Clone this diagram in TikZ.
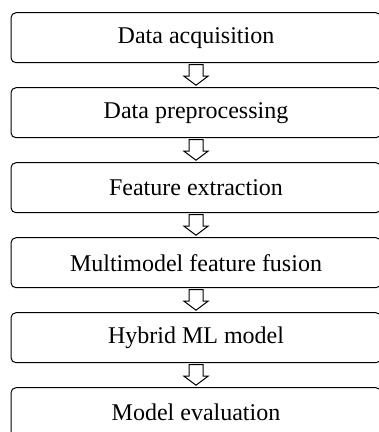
\documentclass[tikz,border=0pt]{standalone}
\usepackage{fontspec}
\setmainfont{Liberation Serif}
\usetikzlibrary{calc,positioning}

\begin{document}
\begin{tikzpicture}[x=1pt,y=1pt,
  stage/.style={draw, line width=1pt, rounded corners=5pt, outer sep=0pt, inner sep=0pt,
    minimum width=370pt, minimum height=50pt, font=\fontsize{24}{28}\selectfont},
  blockarr/.style={draw, line width=1pt, fill=white, line join=miter}]

\useasboundingbox (0,0) rectangle (379,-432);
\clip (0,0) rectangle (379,-432);

% Stages of the pipeline
\node[stage] (acq) at (196,-37.7) {Data acquisition};
\node[stage, below=25pt of acq] (prep) {Data preprocessing};
\node[stage, below=25pt of prep] (feat) {Feature extraction};
\node[stage, below=25pt of feat] (fus) {Multimodel feature fusion};
\node[stage, below=25pt of fus] (hyb) {Hybrid ML model};
\node[stage, below=25pt of hyb] (eval) {Model evaluation};

% Hollow block arrows between stages
\foreach \a/\b in {acq/prep,prep/feat,feat/fus,fus/hyb,hyb/eval}
  \draw[blockarr] ($(\a.south)+(-7,-2)$) -- ($(\a.south)+(7,-2)$) -- ($(\a.south)+(7,-13.5)$)
    -- ($(\a.south)+(12,-13.5)$) -- ($(\b.north)+(0,2.5)$) -- ($(\a.south)+(-12,-13.5)$)
    -- ($(\a.south)+(-7,-13.5)$) -- cycle;

\end{tikzpicture}
\end{document}
